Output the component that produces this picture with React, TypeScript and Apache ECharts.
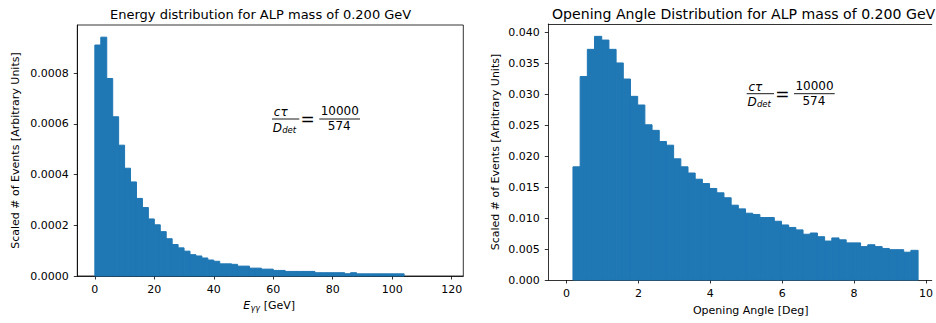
import React, { useEffect, useRef } from "react";
import * as echarts from "echarts";

const FONT = "DejaVu Sans";
const BAR_COLOR = "#1f77b4";

// ---- Left panel: energy distribution (bins of 2 GeV starting at 0) ----
const energyTitle = "Energy distribution for ALP mass of 0.200 GeV";
const energyBinStart = 0;
const energyBinWidth = 2;
const energyValues = [
  0.000911, 0.000942, 0.000779, 0.000628, 0.000516, 0.000425, 0.000371, 0.000306, 0.00027, 0.000225,
  0.000202, 0.000175, 0.000147, 0.000124, 0.000111, 0.000098, 0.000084, 0.000079, 0.000071, 0.000063,
  0.000058, 0.000048, 0.000048, 0.000046, 0.000039, 0.000039, 0.000031, 0.000031, 0.000027, 0.000027,
  0.000022, 0.000022, 0.000018, 0.000018, 0.000018, 0.000018, 0.000018, 0.000013, 0.000013, 0.000013,
  0.000013, 0.000013, 0.000009, 0.000013, 0.0000086, 0.0000086, 0.0000086, 0.0000086, 0.0000086, 0.0000086,
  0.0000086, 0.0000086, 0, 0, 0, 0, 0, 0, 0,
];
const energyXTicks = [0, 20, 40, 60, 80, 100, 120];
const energyYTicks = [0, 0.0002, 0.0004, 0.0006, 0.0008];

// ---- Right panel: opening angle distribution (bins of 0.2 deg) ----
const angleTitle = "Opening Angle Distribution for ALP mass of 0.200 GeV";
const angleBinStart = 0.18;
const angleBinWidth = 0.2;
const angleValues = [
  0.0183, 0.0329, 0.0373, 0.0394, 0.0388, 0.0373, 0.0351, 0.0325, 0.0297, 0.0283,
  0.0251, 0.0242, 0.0224, 0.0218, 0.0196, 0.0183, 0.0173, 0.0163, 0.0156, 0.0148,
  0.0141, 0.0133, 0.0121, 0.0115, 0.0108, 0.0106, 0.0101, 0.0101, 0.0095, 0.0089,
  0.0085, 0.0081, 0.0074, 0.0076, 0.007, 0.0063, 0.0068, 0.0065, 0.006, 0.006,
  0.0054, 0.0057, 0.0054, 0.0051, 0.0049, 0.0049, 0.0045, 0.0048,
];
const angleXTicks = [0, 2, 4, 6, 8, 10];
const angleYTicks = [0, 0.005, 0.01, 0.015, 0.02, 0.025, 0.03, 0.035, 0.04];

const yLabel = "Scaled # of Events [Arbitrary Units]";
const angleXLabel = "Opening Angle [Deg]";

function toBins(start: number, width: number, values: number[]) {
  return values.map((v, i) => [start + i * width, start + (i + 1) * width, v]);
}

const renderBar = (params: any, api: any) => {
  const x0 = api.value(0);
  const x1 = api.value(1);
  const y = api.value(2);
  const p0 = api.coord([x0, y]);
  const p1 = api.coord([x1, 0]);
  return {
    type: "rect",
    shape: { x: p0[0], y: p0[1], width: p1[0] - p0[0], height: p1[1] - p0[1] },
    style: { fill: BAR_COLOR, stroke: y > 0 ? BAR_COLOR : null, lineWidth: 1 },
  };
};

const tickStyle = {
  show: true,
  length: 3.5,
  lineStyle: { color: "#000", width: 0.8 },
};

const txt = (x: number, y: number, text: string, size: number, italic: boolean, align: string) => ({
  type: "text",
  x,
  y,
  silent: true,
  style: {
    text,
    fontFamily: FONT,
    fontSize: size,
    fontStyle: italic ? "italic" : "normal",
    fill: "#000",
    align,
    verticalAlign: "middle",
  },
});

function ratioAnnotation(bx: number, by: number) {
  const ln = (x1: number, x2: number) => ({
    type: "line",
    silent: true,
    shape: { x1: bx + x1, y1: by, x2: bx + x2, y2: by },
    style: { stroke: "#000", lineWidth: 0.9 },
  });
  return [
    txt(bx + 8.7, by - 7.2, "cτ", 12, true, "center"),
    ln(0, 27.3),
    txt(bx + 0.7, by + 8.5, "D", 12, true, "left"),
    txt(bx + 10.2, by + 10.6, "det", 8.5, true, "left"),
    txt(bx + 35.7, by + 0.3, "=", 17, false, "center"),
    txt(bx + 67.8, by - 8.2, "10000", 12, false, "center"),
    ln(47.3, 88),
    txt(bx + 67.2, by + 6.8, "574", 12, false, "center"),
  ];
}

function axisTitles() {
  return [
    txt(243.3, 305.7, "E", 11, true, "left"),
    txt(250.5, 308.7, "γγ", 8, true, "left"),
    txt(260.2, 305.7, " [GeV]", 11, false, "left"),
    txt(750.7, 310.5, angleXLabel, 11, false, "center"),
  ];
}

export default function App() {
  const ref = useRef<HTMLDivElement>(null);
  useEffect(() => {
    if (!ref.current) return;
    const chart = echarts.init(ref.current, undefined, { renderer: "svg" });
    const labelStyle = { color: "#000", fontFamily: FONT, fontSize: 11 };
    const spine = { show: true, onZero: false, lineStyle: { color: "#000", width: 0.8 } };
    const option: any = {
      animation: false,
      textStyle: { fontFamily: FONT },
      title: [
        { text: energyTitle, left: 110, top: 7.5, padding: 0, textStyle: { fontFamily: FONT, fontSize: 13, fontWeight: "normal", color: "#000" } },
        { text: angleTitle, left: 552, top: 7, padding: 0, textStyle: { fontFamily: FONT, fontSize: 14.1, fontWeight: "normal", color: "#000" } },
      ],
      grid: [
        { left: 77.3, top: 25, width: 386, height: 251, show: true, borderColor: "#000", borderWidth: 0.8, backgroundColor: "transparent", containLabel: false },
        { left: 548.3, top: 24, width: 387.7, height: 256, show: false, containLabel: false },
      ],
      xAxis: [
        {
          type: "value", gridIndex: 0, min: -5.9, max: 123.9,
          axisLine: spine,
          axisTick: { ...tickStyle, customValues: energyXTicks },
          axisLabel: { ...labelStyle, margin: 8, customValues: energyXTicks, formatter: (v: number) => String(Math.round(v)) },
          splitLine: { show: false },
        },
        {
          type: "value", gridIndex: 1, min: -0.506, max: 10.16,
          axisLine: spine,
          axisTick: { ...tickStyle, customValues: angleXTicks },
          axisLabel: { ...labelStyle, margin: 8, customValues: angleXTicks, formatter: (v: number) => String(Math.round(v)) },
          splitLine: { show: false },
        },
        {
          // top spine of the right panel (its right spine lies outside the picture)
          type: "value", gridIndex: 1, position: "top", min: -0.506, max: 10.16,
          axisLine: spine,
          axisTick: { show: false },
          axisLabel: { show: false },
          splitLine: { show: false },
        },
      ],
      yAxis: [
        {
          type: "value", gridIndex: 0, min: 0, max: 0.00099,
          name: yLabel, nameLocation: "middle", nameRotate: 90, nameGap: 56.5,
          nameTextStyle: { ...labelStyle },
          axisLine: spine,
          axisTick: { ...tickStyle, customValues: energyYTicks },
          axisLabel: { ...labelStyle, margin: 8.5, customValues: energyYTicks, formatter: (v: number) => v.toFixed(4) },
          splitLine: { show: false },
        },
        {
          type: "value", gridIndex: 1, min: 0, max: 0.0414,
          name: yLabel, nameLocation: "middle", nameRotate: 90, nameGap: 47.5,
          nameTextStyle: { ...labelStyle },
          axisLine: spine,
          axisTick: { ...tickStyle, customValues: angleYTicks },
          axisLabel: { ...labelStyle, margin: 8.5, customValues: angleYTicks, formatter: (v: number) => v.toFixed(3) },
          splitLine: { show: false },
        },
      ],
      series: [
        {
          type: "custom", xAxisIndex: 0, yAxisIndex: 0, silent: true,
          renderItem: renderBar, encode: { x: [0, 1], y: 2 },
          data: toBins(energyBinStart, energyBinWidth, energyValues),
        },
        {
          type: "custom", xAxisIndex: 1, yAxisIndex: 1, silent: true,
          renderItem: renderBar, encode: { x: [0, 1], y: 2 },
          data: toBins(angleBinStart, angleBinWidth, angleValues),
        },
      ],
      graphic: [...ratioAnnotation(272, 119), ...ratioAnnotation(746.7, 93.7), ...axisTitles()],
    };
    chart.setOption(option);
    return () => chart.dispose();
  }, []);
  return <div ref={ref} style={{ position: "absolute", left: 0, top: 0, width: 936, height: 323, background: "#fff" }} />;
}
